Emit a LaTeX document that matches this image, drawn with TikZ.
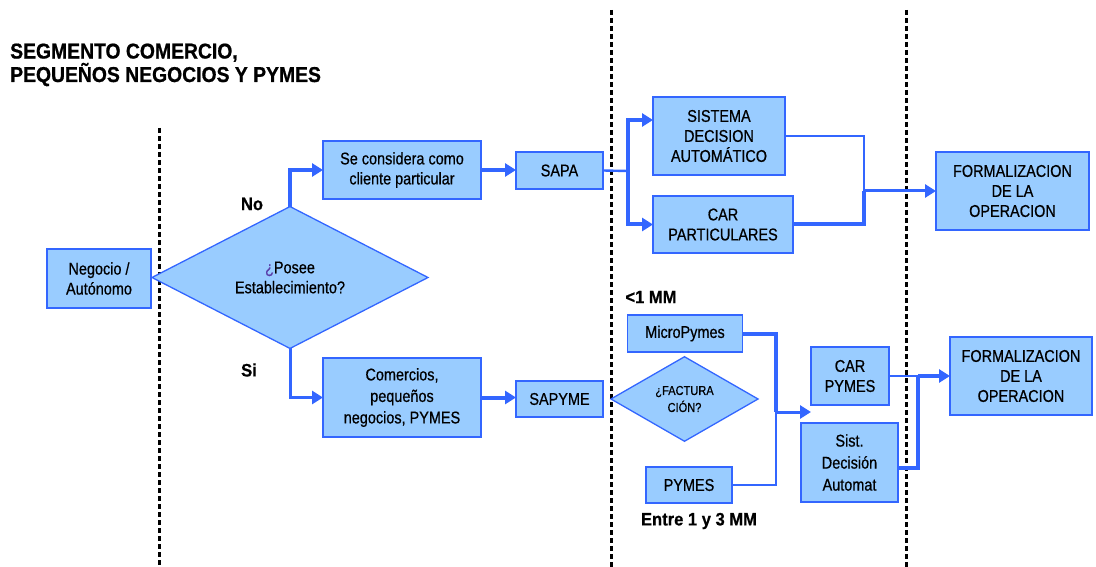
\documentclass[tikz,border=0pt]{standalone}
\usepackage{fontspec}
\setmainfont{Liberation Sans}
\newfontfamily\boxfam[FakeStretch=0.85,FakeBold=0.6]{Liberation Sans}
\newfontfamily\titlefam[FakeStretch=0.9,FakeBold=0.8]{Liberation Sans}
\newfontfamily\labelfam[FakeStretch=0.92,FakeBold=0.5]{Liberation Sans}
\usetikzlibrary{shapes.geometric,arrows.meta}
\definecolor{lblue}{HTML}{99CCFF}
\definecolor{bblue}{HTML}{3366FF}
\definecolor{ques}{HTML}{5A3CA8}
\tikzset{
  box/.style={draw=bblue, fill=lblue, line width=1.5pt, inner sep=0pt, outer sep=0pt,
    align=center, font=\boxfam\fontsize{17}{20}\selectfont},
  dia/.style={diamond, draw=bblue, fill=lblue, line width=1.3pt, inner sep=0pt, outer sep=0pt,
    align=center},
  lbl/.style={font=\labelfam\bfseries\fontsize{18}{20}\selectfont, inner sep=0pt},
  conn/.style={draw=bblue, line join=miter},
  thk/.style={conn, line width=4pt},
  mid/.style={conn, line width=3pt},
  thn/.style={conn, line width=2.4pt},
  tip/.style={-{Triangle[length=11pt,width=13pt]}},
  dsh/.style={draw=black, line width=3pt, dash pattern=on 5pt off 3pt}
}
\begin{document}
\begin{tikzpicture}[x=1pt,y=-1pt]
\useasboundingbox (0,0) rectangle (1096,567);

% dashed separators
\draw[dsh] (159,128) -- (159,567);
\draw[dsh] (611,10) -- (611,567);
\draw[dsh] (906,10) -- (906,567);

% title
\node[anchor=base west, inner sep=0pt, align=left, font=\titlefam\bfseries\fontsize{21.5}{22}\selectfont] (title) at (10,82)
  {SEGMENTO COMERCIO,\\PEQUEÑOS NEGOCIOS Y PYMES};

% nodes
\node[box, minimum width=104pt, minimum height=59pt] (neg) at (99,278.5) {Negocio /\\Autónomo};
\node[dia, minimum width=276pt, minimum height=99pt, font=\boxfam\fontsize{17}{20}\selectfont] (posee) at (290,277.5)
  {\textcolor{ques}{¿}Posee\\Establecimiento?};
\node[box, minimum width=158pt, minimum height=58pt] (secons) at (402,170) {Se considera como\\cliente particular};
\node[box, minimum width=87pt, minimum height=37pt] (sapa) at (559.5,170.5) {SAPA};
\node[box, minimum width=132pt, minimum height=78pt] (sda) at (719,136) {SISTEMA\\DECISION\\AUTOMÁTICO};
\node[box, minimum width=140pt, minimum height=57pt] (carp) at (723,224.5) {CAR\\PARTICULARES};
\node[box, minimum width=153pt, minimum height=78pt] (form1) at (1012.5,191) {FORMALIZACION\\DE LA\\OPERACION};

\node[box, minimum width=158pt, minimum height=79pt, font=\boxfam\fontsize{17}{21.5}\selectfont] (comer) at (402,397.5)
  {Comercios,\\pequeños\\negocios, PYMES};
\node[box, minimum width=87pt, minimum height=36pt] (sapyme) at (559.5,399) {SAPYME};
\node[box, minimum width=115pt, minimum height=37pt] (micro) at (685,333.5) {MicroPymes};
\node[dia, minimum width=147pt, minimum height=80pt, font=\boxfam\fontsize{13}{17}\selectfont] (fact) at (684.5,399)
  {¿FACTURA\\CIÓN?};
\node[box, minimum width=86pt, minimum height=36pt] (pymes) at (689,485) {PYMES};
\node[box, minimum width=78pt, minimum height=58pt] (carpy) at (850,376) {CAR\\PYMES};
\node[box, minimum width=97pt, minimum height=79pt, font=\boxfam\fontsize{17}{22}\selectfont] (sist) at (849.5,462.5)
  {Sist.\\Decisión\\Automat};
\node[box, minimum width=142pt, minimum height=78pt] (form2) at (1021,376) {FORMALIZACION\\DE LA\\OPERACION};

% labels
\node[lbl] (no) at (252,204) {No};
\node[lbl] (si) at (249,370) {Si};
\node[lbl] (lt1) at (651,297) {<1 MM};
\node[lbl] (entre) at (699,521) {Entre 1 y 3 MM};

% connectors: upper branch
\draw[thk,tip] (posee.north) |- (secons.west);
\draw[thk,tip] (secons.east) -- (secons.east -| sapa.west);
\coordinate (j1) at (628,171);
\draw[thn] (sapa.east) -- (j1);
\draw[thk,tip] (j1) |- ([yshift=16pt]sda.west);
\draw[thk,tip] (j1) |- (carp.west);
\coordinate (j2) at (864,191);
\draw[thn] (sda.east) -| (j2);
\draw[thk] (carp.east) -| (j2);
\draw[mid,tip] (j2) -- (form1.west);

% connectors: lower branch
\draw[mid,tip] (posee.south) |- (comer.west);
\draw[thk,tip] (comer.east) -- (comer.east -| sapyme.west);
\coordinate (j3) at (776,412);
\draw[thk] (micro.east) -| (j3);
\draw[thn] (pymes.east) -| (j3);
\draw[mid,tip] (j3) -- (carpy.west |- j3);
\coordinate (j4) at (918,376);
\draw[thn] (carpy.east) -- (j4);
\draw[thk] ([yshift=-5.5pt]sist.east) -| (j4);
\draw[thk,tip] (j4) -- (form2.west);
\end{tikzpicture}
\end{document}
